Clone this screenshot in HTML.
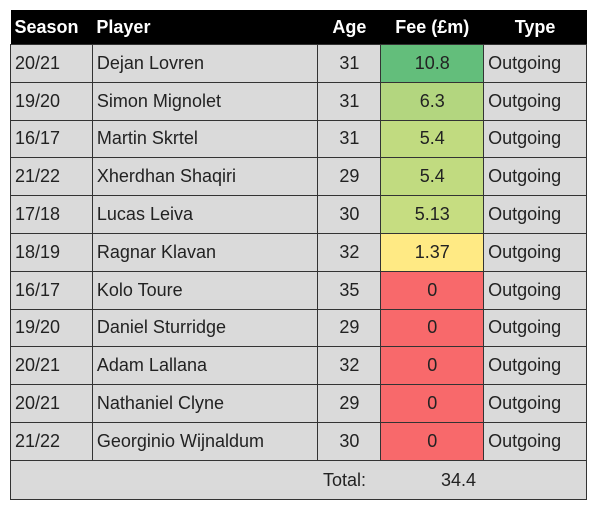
<!DOCTYPE html><html><head><style>
body{margin:0;width:600px;height:516px;background:#fff;font-family:"Liberation Sans",sans-serif;}
table{position:absolute;left:10px;top:10px;border-collapse:collapse;width:577px;}
td,th{height:36.8px;padding:0 4px;font-size:18px;color:#222;border:1px solid #333;background:#dadada;white-space:nowrap}
th{background:#000;color:#fff;font-weight:bold;height:34px;border:none;font-size:18px}
.c{text-align:center}
tr.t td{border:1px solid #333;height:38px;position:relative;padding:0}
</style></head><body>
<table>
<colgroup><col style="width:82px"><col style="width:226px"><col style="width:63px"><col style="width:103px"><col style="width:103px"></colgroup>
<tr><th style="text-align:left">Season</th><th style="text-align:left">Player</th><th>Age</th><th>Fee (£m)</th><th>Type</th></tr>
<tr><td>20/21</td><td>Dejan Lovren</td><td class="c">31</td><td class="c" style="background:#63be7b">10.8</td><td>Outgoing</td></tr>
<tr><td>19/20</td><td>Simon Mignolet</td><td class="c">31</td><td class="c" style="background:#b3d67f">6.3</td><td>Outgoing</td></tr>
<tr><td>16/17</td><td>Martin Skrtel</td><td class="c">31</td><td class="c" style="background:#c1db80">5.4</td><td>Outgoing</td></tr>
<tr><td>21/22</td><td>Xherdhan Shaqiri</td><td class="c">29</td><td class="c" style="background:#c1db80">5.4</td><td>Outgoing</td></tr>
<tr><td>17/18</td><td>Lucas Leiva</td><td class="c">30</td><td class="c" style="background:#c6dd81">5.13</td><td>Outgoing</td></tr>
<tr><td>18/19</td><td>Ragnar Klavan</td><td class="c">32</td><td class="c" style="background:#ffea84">1.37</td><td>Outgoing</td></tr>
<tr><td>16/17</td><td>Kolo Toure</td><td class="c">35</td><td class="c" style="background:#f8696b">0</td><td>Outgoing</td></tr>
<tr><td>19/20</td><td>Daniel Sturridge</td><td class="c">29</td><td class="c" style="background:#f8696b">0</td><td>Outgoing</td></tr>
<tr><td>20/21</td><td>Adam Lallana</td><td class="c">32</td><td class="c" style="background:#f8696b">0</td><td>Outgoing</td></tr>
<tr><td>20/21</td><td>Nathaniel Clyne</td><td class="c">29</td><td class="c" style="background:#f8696b">0</td><td>Outgoing</td></tr>
<tr><td>21/22</td><td>Georginio Wijnaldum</td><td class="c">30</td><td class="c" style="background:#f8696b">0</td><td>Outgoing</td></tr>
<tr class="t"><td colspan="5"><span style="position:absolute;left:312px;top:9px">Total:</span><span style="position:absolute;left:430px;top:9px">34.4</span></td></tr>
</table>
</body></html>
